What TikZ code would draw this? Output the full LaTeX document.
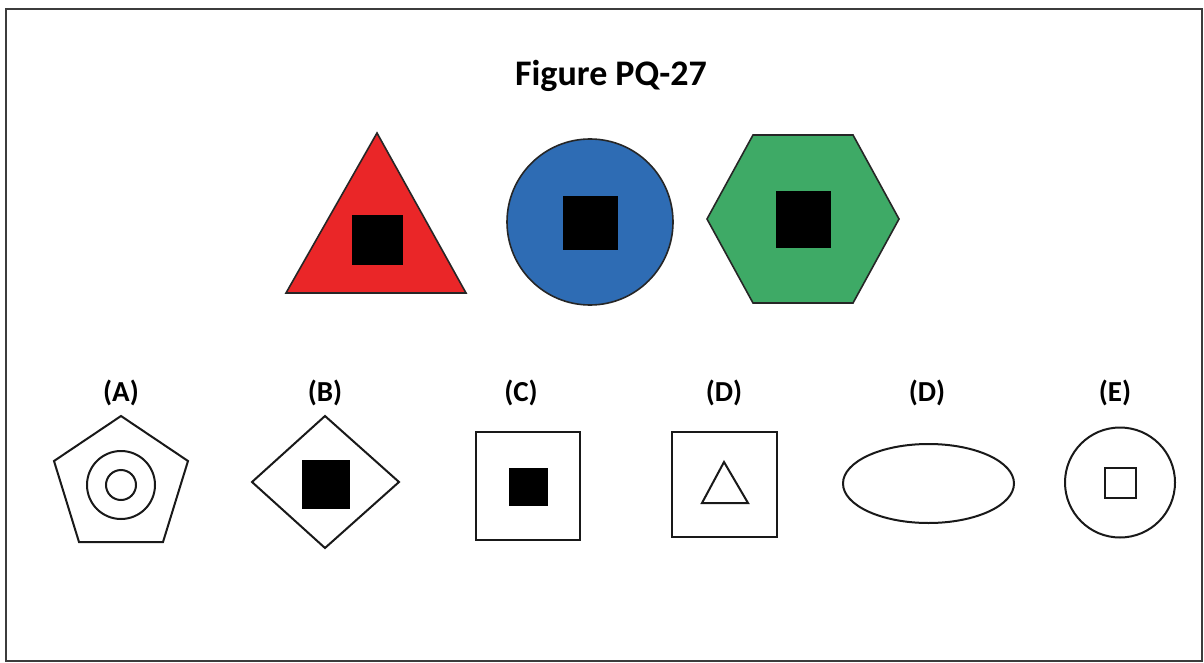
\documentclass[tikz,border=0pt]{standalone}
\usepackage{fontspec}
\setmainfont{Carlito}
\definecolor{tri}{RGB}{234,38,40}
\definecolor{circ}{RGB}{46,108,180}
\definecolor{hexg}{RGB}{62,170,102}
\definecolor{frame}{RGB}{60,60,60}
\begin{document}
\begin{tikzpicture}[x=1pt,y=-1pt,
  topshape/.style={draw=black!85, line width=1.6pt, line join=miter},
  blk/.style={fill=black, draw=black, line width=0.8pt},
  outl/.style={draw=black!90, line width=2pt, line join=miter},
  lbl/.style={font=\fontsize{29}{31}\selectfont\bfseries, inner sep=0pt, anchor=base},
  ttl/.style={font=\fontsize{36}{38}\selectfont\bfseries, inner sep=0pt, anchor=base}]
\useasboundingbox (0,0) rectangle (1204,663);
\fill[white] (0,0) rectangle (1204,663);
\draw[frame, line width=1.5pt] (6,9) rectangle (1202,661);

\node[ttl] (title) at (611,86) {Figure PQ-27};

% top row
\draw[topshape, fill=tri] (377,133) -- (466,293) -- (286,293) -- cycle;
\fill[blk] (352,215) rectangle (402,264);
\draw[topshape, fill=circ] (590,222) circle (83);
\fill[blk] (563,196) rectangle (617,249);
\draw[topshape, fill=hexg] (707,219) -- (753,135) -- (853,135) -- (899,219) -- (853,303) -- (753,303) -- cycle;
\fill[blk] (776,191) rectangle (830,247);

% labels
\node[lbl] (la) at (121,401) {(A)};
\node[lbl] (lb) at (325,401) {(B)};
\node[lbl] (lc) at (521,401) {(C)};
\node[lbl] (ld) at (724,401) {(D)};
\node[lbl] (ld2) at (927,401) {(D)};
\node[lbl] (le) at (1115,401) {(E)};

% A
\draw[outl] (121,416) -- (188,461) -- (163,542) -- (79,542) -- (54,461) -- cycle;
\draw[outl] (121,485) circle (34);
\draw[outl] (121,485) circle (15);
% B
\draw[outl] (325,416) -- (399,482) -- (325,548) -- (252,482) -- cycle;
\fill[blk] (302,460) rectangle (349,508);
% C
\draw[outl] (476,432) rectangle (580,540);
\fill[blk] (509,468) rectangle (547,505);
% D
\draw[outl] (672,432) rectangle (777,537);
\draw[outl] (724,462) -- (748,503) -- (702,503) -- cycle;
% D ellipse
\draw[outl] (928.5,483.5) ellipse [x radius=85.5, y radius=39.5];
% E
\draw[outl] (1120,482.5) circle (55);
\draw[outl] (1105,468) rectangle (1136,498);
\end{tikzpicture}
\end{document}
